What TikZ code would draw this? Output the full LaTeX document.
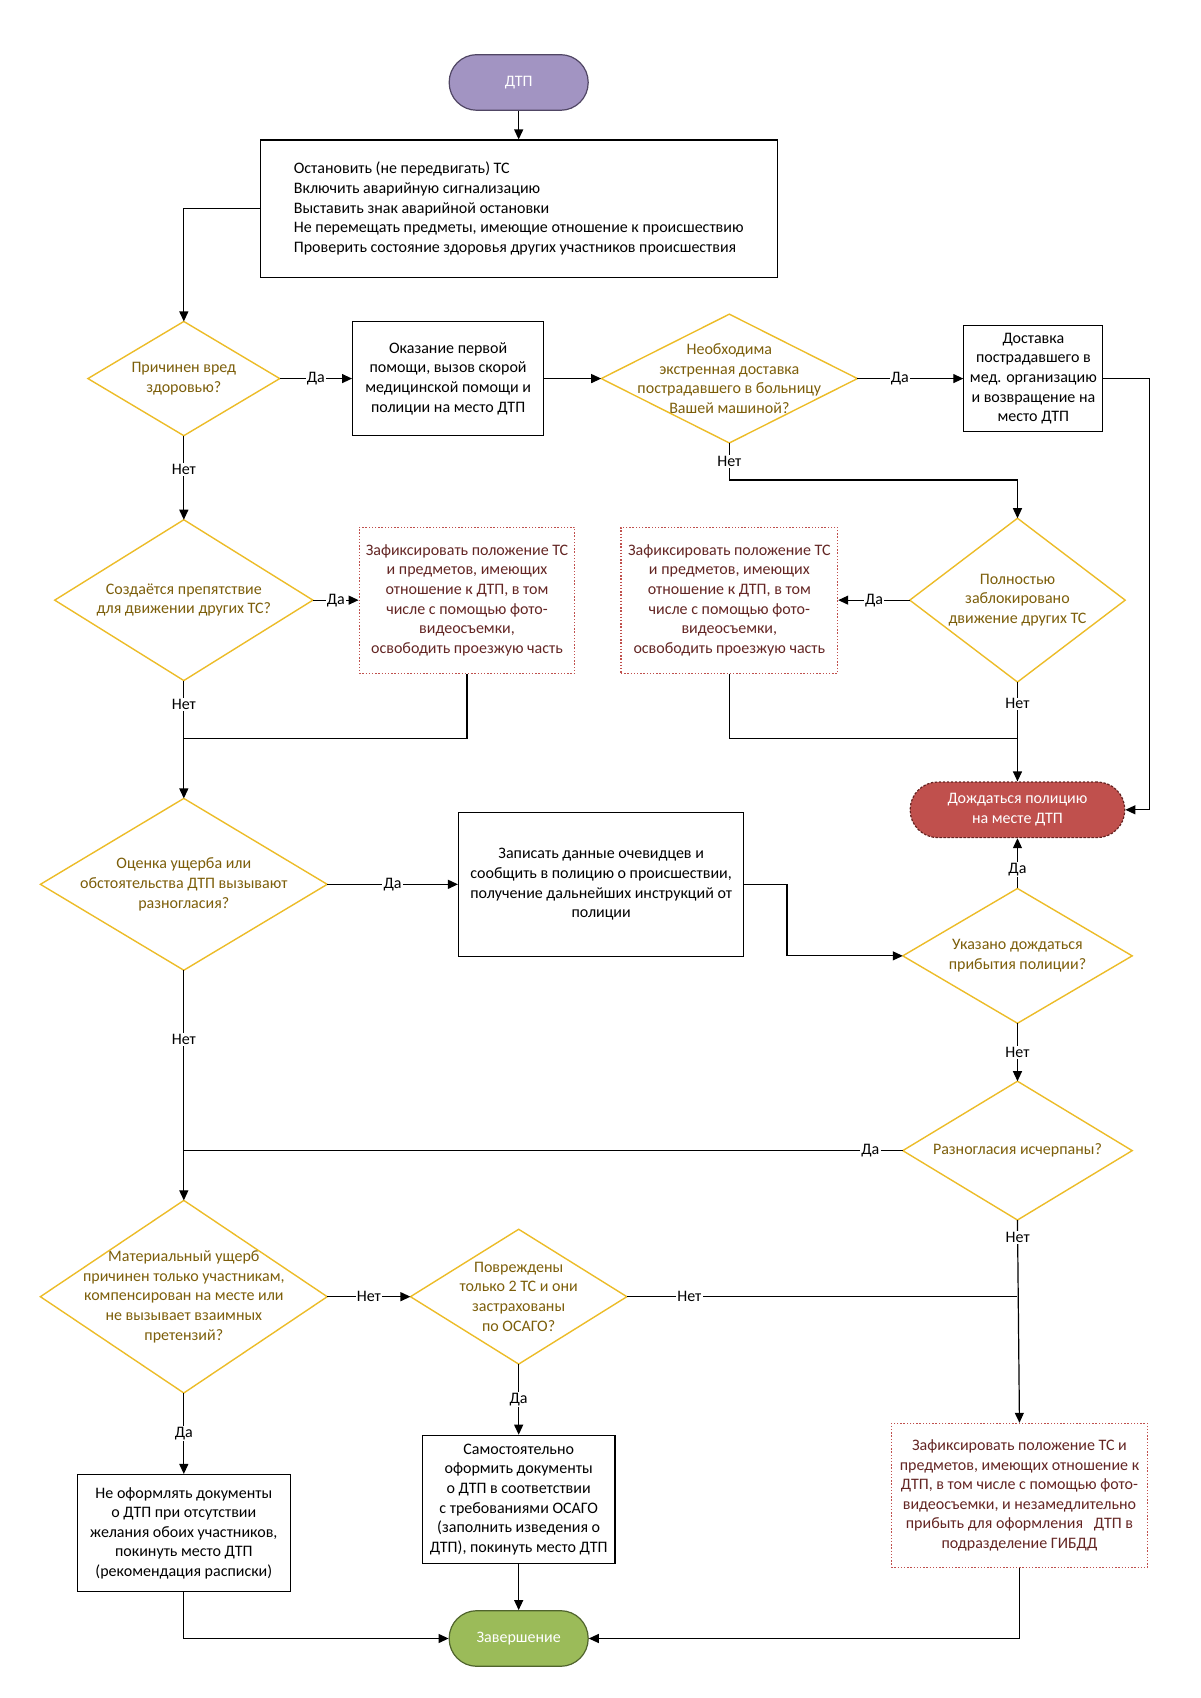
\documentclass[tikz,border=0pt]{standalone}
\usepackage{fontspec}
\setmainfont{Carlito}
\usetikzlibrary{arrows.meta}
\definecolor{dgold}{RGB}{236,188,40}
\definecolor{dtext}{RGB}{124,94,10}
\definecolor{fred}{RGB}{192,80,77}
\definecolor{ftext}{RGB}{99,37,35}
\definecolor{startfill}{RGB}{162,148,194}
\definecolor{startdraw}{RGB}{80,70,100}
\definecolor{redfill}{RGB}{192,80,77}
\definecolor{reddraw}{RGB}{100,35,33}
\definecolor{endfill}{RGB}{155,187,89}
\definecolor{enddraw}{RGB}{80,100,45}
\begin{document}
\begin{tikzpicture}[x=0.4968pt,y=-0.4968pt,
  every node/.style={font=\fontsize{8}{9.8}\selectfont},
  box/.style={draw=black, line width=0.6pt, rectangle, align=center, inner sep=0pt},
  dec/.style={rectangle, align=center, inner sep=0pt, text=dtext},
  dotbox/.style={draw=fred, line width=0.6pt, dash pattern=on 0.7pt off 0.9pt, align=center, text=ftext, inner sep=0pt},
  term/.style={rectangle, rounded corners=13.8pt, align=center, text=white, line width=0.6pt, inner sep=0pt, minimum width=69.5pt, minimum height=27.8pt},
  lbl/.style={fill=white, inner sep=0.6pt, text=black},
  arr/.style={line width=0.6pt, -{Triangle[length=5pt,width=4.5pt]}},
  ln/.style={line width=0.6pt}]
\useasboundingbox (0,0) rectangle (1207.7,1708.9);

% nodes
\node[term, fill=startfill, draw=startdraw] (start) at (522,83) {ДТП};
\node[box, minimum width=258.5pt, minimum height=68.6pt, align=left] (box1) at (522,210) {Остановить (не передвигать) ТС\\Включить аварийную сигнализацию\\Выставить знак аварийной остановки\\Не перемещать предметы, имеющие отношение к происшествию\\Проверить состояние здоровья других участников происшествия};
\node[dec, minimum width=95.5pt, minimum height=56.7pt] (d1) at (185,381) {Причинен вред\\здоровью?};
\node[box, minimum width=95.5pt, minimum height=57pt] (box2) at (451,381) {Оказание первой\\помощи, вызов скорой\\медицинской помощи и\\полиции на место ДТП};
\node[dec, minimum width=127.7pt, minimum height=64pt] (d2) at (734,381) {Необходима\\экстренная доставка\\пострадавшего в больницу\\Вашей машиной?};
\node[box, minimum width=69.5pt, minimum height=52.7pt] (box3) at (1040,381) {Доставка\\пострадавшего в\\мед. организацию\\и возвращение на\\место ДТП};
\node[dec, minimum width=128.7pt, minimum height=80pt] (d3) at (185,604) {Создаётся препятствие\\для движении других ТС?};
\node[dotbox, minimum width=107.8pt, minimum height=73pt] (dotL) at (470,604) {Зафиксировать положение ТС\\и предметов, имеющих\\отношение к ДТП, в том\\числе с помощью фото-\\видеосъемки,\\освободить проезжую часть};
\node[dotbox, minimum width=108.3pt, minimum height=73pt] (dotR) at (734,604) {Зафиксировать положение ТС\\и предметов, имеющих\\отношение к ДТП, в том\\числе с помощью фото-\\видеосъемки,\\освободить проезжую часть};
\node[dec, minimum width=107.3pt, minimum height=81.5pt] (d4) at (1024,604) {Полностью\\заблокировано\\движение других ТС};
\node[term, fill=redfill, draw=reddraw, dash pattern=on 1.2pt off 0.8pt, minimum width=107.3pt] (red) at (1024,815) {Дождаться полицию\\на месте ДТП};
\node[dec, minimum width=143pt, minimum height=85.5pt] (d5) at (185,890) {Оценка ущерба или\\обстоятельства ДТП вызывают\\разногласия?};
\node[box, minimum width=142.6pt, minimum height=72pt] (boxZ) at (605,890) {Записать данные очевидцев и\\сообщить в полицию о происшествии,\\получение дальнейших инструкций от\\полиции};
\node[dec, minimum width=114.3pt, minimum height=67pt] (d6) at (1024,962) {Указано дождаться\\прибытия полиции?};
\node[dec, minimum width=114.3pt, minimum height=69pt] (d7) at (1024,1158) {Разногласия исчерпаны?};
\node[dec, minimum width=143pt, minimum height=95.9pt] (d8) at (185,1305) {Материальный ущерб\\причинен только участникам,\\компенсирован на месте или\\не вызывает взаимных\\претензий?};
\node[dec, minimum width=107.8pt, minimum height=67pt] (d9) at (522,1305) {Повреждены\\только 2 ТС и они\\застрахованы\\по ОСАГО?};
\node[dotbox, minimum width=128.2pt, minimum height=72pt] (dot3) at (1026,1505) {Зафиксировать положение ТС и\\предметов, имеющих отношение к\\ДТП, в том числе с помощью фото-\\видеосъемки, и незамедлительно\\прибыть для оформления\ \ \ ДТП в\\подразделение ГИБДД};
\node[box, minimum width=96.4pt, minimum height=64.1pt] (boxS) at (522,1509) {Самостоятельно\\оформить документы\\о ДТП в соответствии\\с требованиями ОСАГО\\(заполнить изведения о\\ДТП), покинуть место ДТП};
\node[box, minimum width=106.3pt, minimum height=58.6pt] (boxN) at (185,1543) {Не оформлять документы\\о ДТП при отсутствии\\желания обоих участников,\\покинуть место ДТП\\(рекомендация расписки)};
\node[term, fill=endfill, draw=enddraw] (end) at (522,1649) {Завершение};

% diamond outlines
\foreach \n in {d1,d2,d3,d4,d5,d6,d7,d8,d9}
  \draw[dgold, line width=0.7pt] (\n.north) -- (\n.east) -- (\n.south) -- (\n.west) -- cycle;

% helper coordinates
\coordinate (k1) at (1157,381);
\coordinate (k2) at (734,483);
\coordinate (m1) at (185,743);
\coordinate (m2) at (1024,743);
\coordinate (k3) at (792,890);

% connectors
\draw[arr] (start) -- (box1);
\draw[arr] (box1.west) -| (d1.north);
\draw[arr] (d1.east) -- node[lbl]{Да} (box2.west);
\draw[arr] (box2.east) -- (d2.west);
\draw[arr] (d2.east) -- node[lbl,pos=0.4]{Да} (box3.west);
\draw[arr] (box3.east) -- (k1) |- (red.east);
\draw[arr] (d1.south) -- node[lbl,pos=0.4]{Нет} (d3.north);
\draw[arr] (d2.south) -- node[lbl]{Нет} (k2) -| (d4.north);
\draw[arr] (d3.east) -- node[lbl]{Да} (dotL.west);
\draw[arr] (d4.west) -- node[lbl]{Да} (dotR.east);
\draw[arr] (d3.south) -- node[lbl,pos=0.2]{Нет} (d5.north);
\draw[ln] (dotL.south) |- (m1);
\draw[ln] (dotR.south) |- (m2);
\draw[arr] (d4.south) -- node[lbl,pos=0.22]{Нет} (red.north);
\draw[arr] (d5.east) -- node[lbl]{Да} (boxZ.west);
\draw[arr] (boxZ.east) -- (k3) |- (d6.west);
\draw[arr] (d6.north) -- node[lbl,pos=0.38]{Да} (red.south);
\draw[arr] (d6.south) -- node[lbl]{Нет} (d7.north);
\draw[arr] (d5.south) -- node[lbl,pos=0.3]{Нет} (d8.north);
\draw[ln] (d7.west) -- node[lbl,pos=0.045]{Да} (d7.west -| d5.south);
\draw[arr] (d8.east) -- node[lbl]{Нет} (d9.west);
\draw[ln] (d9.east) -- node[lbl,pos=0.16]{Нет} (d9.east -| d7.south);
\draw[arr] (d7.south) -- node[lbl,pos=0.085]{Нет} (dot3.north);
\draw[arr] (d9.south) -- node[lbl]{Да} (boxS.north);
\draw[arr] (d8.south) -- node[lbl]{Да} (boxN.north);
\draw[arr] (boxS.south) -- (end.north);
\draw[arr] (boxN.south) |- (end.west);
\draw[arr] (dot3.south) |- (end.east);
\end{tikzpicture}
\end{document}
